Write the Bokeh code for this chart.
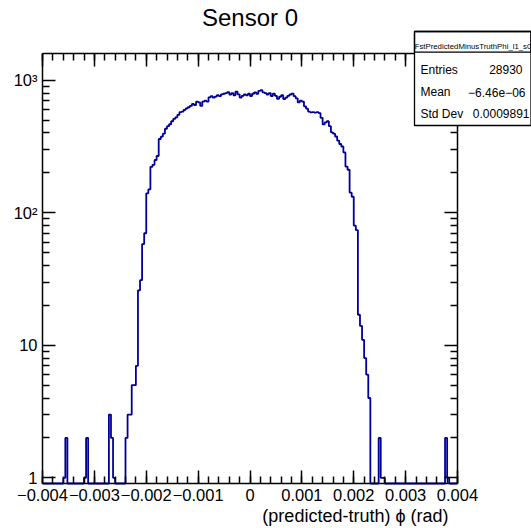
import numpy as np
from bokeh.plotting import figure
from bokeh.models import (Range1d, FixedTicker, LinearAxis, LogAxis,
                          CustomJSTickFormatter, Label, BoxAnnotation)
from bokeh.embed import file_html
from bokeh.resources import INLINE

# ---------------- data ----------------
title_text = "Sensor 0"
x_title = "(predicted-truth) \u03d5 (rad)"
hist_name = "FstPredictedMinusTruthPhi_l1_s0"
stat_labels = ["Entries", "Mean", "Std Dev"]
stat_values = ["28930", "\u22126.46e\u221206", "0.0009891"]

x_lo, x_hi, n_bins = -0.004, 0.004, 200
counts = [
    0, 0, 0, 0, 0, 0, 0, 0, 0, 0,
    1, 2, 0, 0, 0, 0, 0, 0, 0, 0,
    1, 2, 0, 0, 0, 0, 0, 0, 0, 0,
    0, 0, 3, 2, 1, 0, 0, 0, 0, 0,
    2, 3, 3, 5, 5, 7, 26, 31, 58, 70,
    140, 150, 222, 230, 250, 268, 360, 375, 395, 430,
    450, 465, 490, 510, 525, 548, 575, 580, 598, 612,
    625, 640, 662, 648, 688, 680, 640, 690, 700, 688,
    742, 758, 738, 752, 770, 758, 782, 790, 800, 812,
    780, 800, 770, 820, 782, 740, 762, 780, 770, 790,
    760, 790, 810, 790, 830, 840, 810, 800, 780, 800,
    760, 790, 762, 722, 750, 770, 720, 740, 762, 780,
    792, 757, 730, 680, 700, 690, 635, 610, 580, 572,
    575, 570, 575, 565, 520, 464, 480, 490, 450, 404,
    395, 376, 350, 330, 316, 285, 223, 211, 142, 132,
    80, 74, 17, 14, 11, 8, 6, 4, 0, 0,
    0, 0, 2, 1, 1, 0, 0, 0, 0, 0,
    0, 0, 0, 0, 0, 0, 0, 0, 0, 0,
    0, 0, 0, 0, 0, 0, 0, 0, 0, 0,
    0, 0, 0, 0, 2, 1, 0, 0, 0, 0,
]
x_major = [-0.004, -0.003, -0.002, -0.001, 0.0, 0.001, 0.002, 0.003, 0.004]
y_major = [1, 10, 100, 1000]
y_lo, y_hi = 0.906, 1590.0

# ---------------- layout ----------------
W, H = 531, 528
FL, FR, FT, FB = 42, 457, 53, 483  # axes box edges in pixels
FONT = "Liberation Sans"
LINE = "#000099"

# the plotting frame covers the whole canvas; the axes are pinned at the box edges
sx = (x_hi - x_lo) / (FR - FL)
ll0, ll1 = np.log10(y_lo), np.log10(y_hi)
sl = (ll1 - ll0) / (FB - FT)
x_start, x_end = x_lo - FL * sx, x_hi + (W - FR) * sx
y_start, y_end = 10 ** (ll0 - (H - FB) * sl), 10 ** (ll1 + FT * sl)

p = figure(width=W, height=H, x_range=Range1d(x_start, x_end),
           y_range=Range1d(y_start, y_end), y_axis_type="log",
           x_axis_location=None, y_axis_location=None,
           output_backend="svg", toolbar_location=None,
           min_border=0, min_border_left=0, min_border_right=0,
           min_border_top=0, min_border_bottom=0)
p.xgrid.visible = False
p.ygrid.visible = False
p.outline_line_color = None
p.background_fill_color = "white"
p.border_fill_color = "white"

edges = np.linspace(x_lo, x_hi, n_bins + 1)
vals = np.array(counts, dtype=float)
yplot = np.where(vals > 0, vals, y_lo)
p.step(edges, np.append(yplot, yplot[-1]), mode="after",
       line_color=LINE, line_width=1.8)

x_minor = [round(v, 5) for v in np.arange(-20, 21) * 0.0002]
y_minor = [m * 10 ** e for e in range(0, 3) for m in range(2, 10)]

xfmt = CustomJSTickFormatter(code="""
if (Math.abs(tick) < 1e-12) return "0";
const s = Math.abs(tick).toFixed(3);
return (tick < 0 ? "\u2212" : "") + s;
""")
yfmt = CustomJSTickFormatter(code="""
const r = Math.round(tick);
if (r === 1) return "1";
if (r === 10) return "10";
if (r === 100) return "10\u00b2";
if (r === 1000) return "10\u00b3";
return "";
""")
blank = CustomJSTickFormatter(code="return '';")

def style(ax, major, minor, fmt, show):
    ax.ticker = FixedTicker(ticks=major, minor_ticks=minor)
    ax.formatter = fmt
    ax.major_tick_in = 13
    ax.major_tick_out = 0
    ax.minor_tick_in = 7
    ax.minor_tick_out = 0
    ax.axis_line_color = "black"
    ax.axis_line_width = 1.5
    ax.major_tick_line_width = 1.5
    ax.minor_tick_line_width = 1.5
    ax.major_label_text_font = FONT
    ax.major_label_text_color = "black"
    if show:
        ax.major_label_text_font_size = "16.5px"
        ax.major_label_standoff = 5
    else:
        ax.major_label_text_font_size = "0px"
        ax.major_label_standoff = 0

bottom_ax = LinearAxis(fixed_location=y_lo, bounds=(x_lo, x_hi))
style(bottom_ax, x_major, x_minor, xfmt, True)
p.add_layout(bottom_ax, "below")
left_ax = LogAxis(fixed_location=x_lo, bounds=(y_lo, y_hi))
style(left_ax, y_major, y_minor, yfmt, True)
p.add_layout(left_ax, "left")
top_ax = LinearAxis(fixed_location=y_hi, bounds=(x_lo, x_hi))
style(top_ax, x_major, x_minor, blank, False)
p.add_layout(top_ax, "above")
right_ax = LogAxis(fixed_location=x_hi, bounds=(y_lo, y_hi))
style(right_ax, y_major, y_minor, blank, False)
p.add_layout(right_ax, "right")

# helpers: pixel -> data (for annotation placement)
def dx(px):
    return x_lo + (px - FL) * sx

def dy(py):
    return float(10 ** (ll0 + (FB - py) * sl))

p.add_layout(Label(x=dx(249.5), y=dy(17), text=title_text, text_align="center",
                   text_baseline="middle", text_font=FONT, text_font_size="24px",
                   text_color="black"))
p.add_layout(Label(x=dx(448), y=dy(515), text=x_title, text_align="right",
                   text_baseline="middle", text_font=FONT, text_font_size="18px",
                   text_color="black"))

# stats box
p.add_layout(BoxAnnotation(left=dx(414), right=dx(530.5), top=dy(31), bottom=dy(125),
                           fill_color="white", fill_alpha=1.0, line_color="black",
                           line_width=1.3, line_alpha=1.0))
p.add_layout(BoxAnnotation(left=dx(414), right=dx(530.5), top=dy(31), bottom=dy(51.7),
                           fill_alpha=0.0, line_color="black", line_width=1.3,
                           line_alpha=1.0))
p.add_layout(Label(x=dx(472.5), y=dy(46), text=hist_name, text_align="center",
                   text_baseline="middle", text_font=FONT, text_font_size="7.8px",
                   text_color="black"))
row_y = [69, 91.5, 113.3]
val_right = [522, 525, 529]
for lab, v, yy, xr in zip(stat_labels, stat_values, row_y, val_right):
    p.add_layout(Label(x=dx(420), y=dy(yy), text=lab, text_align="left",
                       text_baseline="middle", text_font=FONT, text_font_size="12px",
                       text_color="black"))
    p.add_layout(Label(x=dx(xr), y=dy(yy), text=v, text_align="right",
                       text_baseline="middle", text_font=FONT, text_font_size="12px",
                       text_color="black"))

open("out.html", "w").write(file_html(p, INLINE))
